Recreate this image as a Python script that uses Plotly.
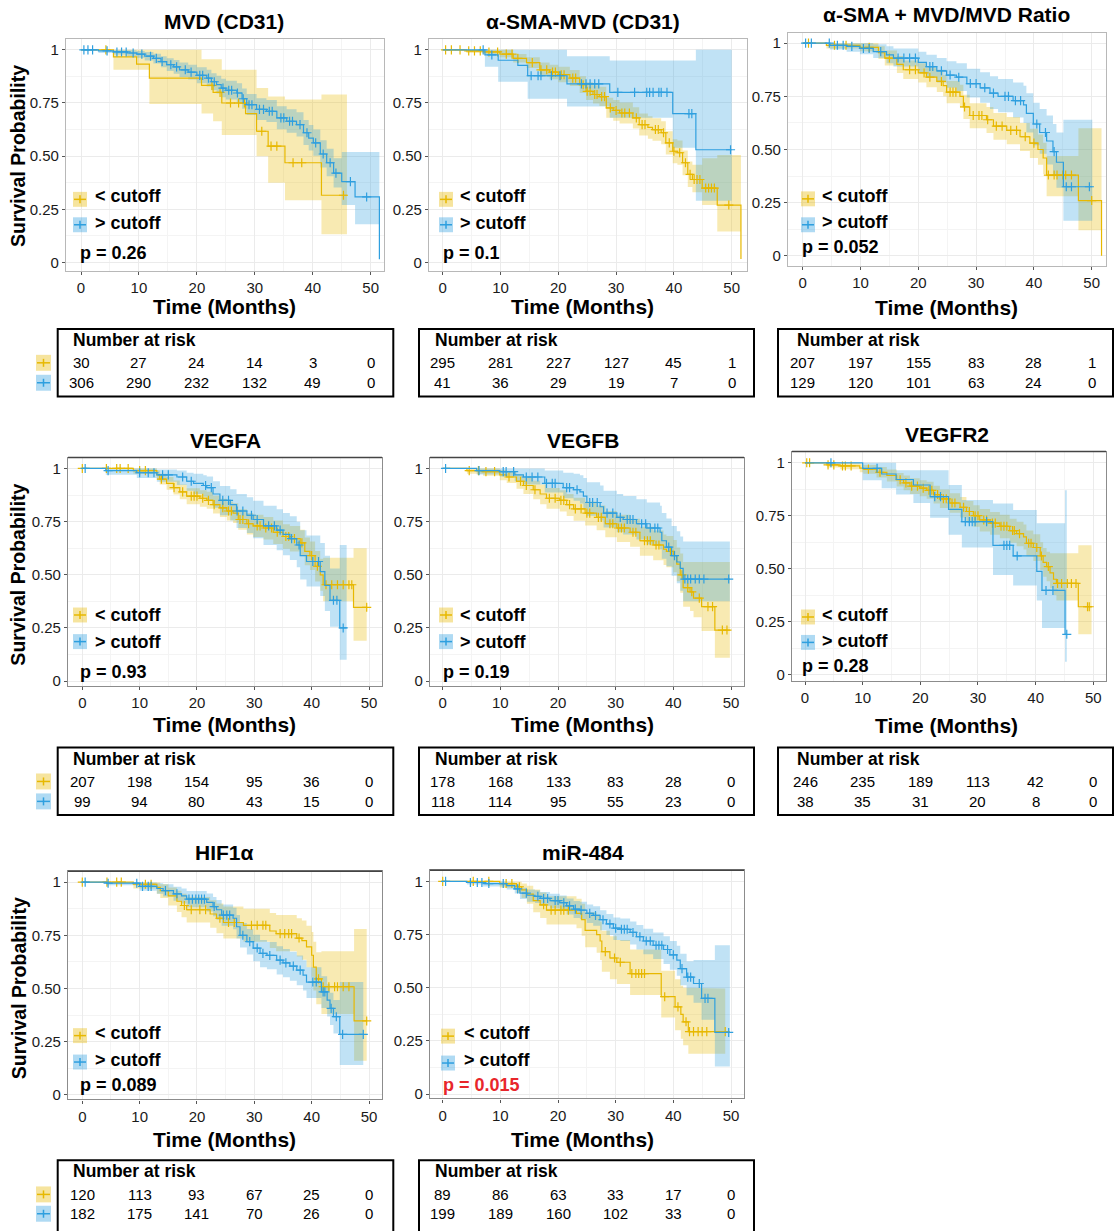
import plotly.graph_objects as go

W, H = 1114, 1231
FONT = "Liberation Sans"
TIME_BREAKS = [0, 10, 20, 30, 40, 50]
Y_TICKS = [0, 0.25, 0.5, 0.75, 1]
Y_TICK_TEXT = ["0", "0.25", "0.50", "0.75", "1"]
GROUP_LABELS = ["< cutoff", "> cutoff"]
LOW_COLOR, HIGH_COLOR = "#E7B800", "#2E9FDF"
LOW_FILL, HIGH_FILL = "rgba(231,184,0,0.30)", "rgba(46,159,223,0.30)"
LOW_SWATCH, HIGH_SWATCH = "rgba(231,184,0,0.38)", "rgba(46,159,223,0.38)"

TITLES = ["MVD (CD31)", "α-SMA-MVD (CD31)", "α-SMA + MVD/MVD Ratio",
          "VEGFA", "VEGFB", "VEGFR2", "HIF1α", "miR-484"]
P_VALUES = ["0.26", "0.1", "0.052", "0.93", "0.19", "0.28", "0.089", "0.015"]
P_SIGNIFICANT = [False, False, False, False, False, False, False, True]

# ---------------- MVD (CD31) ----------------
MVD_LOW_T = [0, 5.6, 9.6, 11.8, 20.8, 22.8, 24.3, 28.4, 30.3, 32.3, 35.2, 41.5]
MVD_LOW_S = [1, 0.967, 0.933, 0.867, 0.833, 0.80, 0.75, 0.70, 0.617, 0.547, 0.469, 0.316]
MVD_LOW_LCL = [1, 0.906, 0.906, 0.745, 0.70, 0.664, 0.60, 0.60, 0.50, 0.375, 0.292, 0.133]
MVD_LOW_UCL = [1, 1, 1, 1, 0.956, 0.956, 0.906, 0.906, 0.82, 0.78, 0.766, 0.79]
MVD_LOW_END = 45.9
MVD_LOW_CENS = [4.3, 22.6, 24.0, 25.8, 27.2, 28.2, 31.2, 32.8, 33.8, 36.6, 38.1, 45.3]
MVD_HIGH_T = [0, 3, 5.6, 8, 9.6, 11, 12.5, 13.8, 14.8, 16, 17, 18.5, 20, 21.7, 22.5, 23.4, 24.2, 25,
              26.9, 27.8, 28.6, 30.3, 32, 33.8, 35.5, 37.2, 38.4, 39.3, 40.1, 41.3, 42.4, 43.6, 45, 47.3, 51.5]
MVD_HIGH_S = [1, 0.995, 0.99, 0.985, 0.98, 0.97, 0.96, 0.945, 0.93, 0.92, 0.906, 0.895, 0.88, 0.867, 0.85,
              0.836, 0.82, 0.81, 0.797, 0.77, 0.742, 0.72, 0.711, 0.68, 0.664, 0.648, 0.61, 0.585, 0.5625,
              0.51, 0.469, 0.42, 0.38, 0.308, 0.015]
MVD_HIGH_LCL = [1, 0.985, 0.978, 0.97, 0.963, 0.95, 0.936, 0.918, 0.9, 0.888, 0.872, 0.86, 0.843, 0.828,
                0.81, 0.795, 0.777, 0.766, 0.752, 0.723, 0.693, 0.67, 0.66, 0.627, 0.61, 0.592, 0.552,
                0.526, 0.502, 0.447, 0.405, 0.352, 0.27, 0.18, 0.18]
MVD_HIGH_UCL = [1, 1, 1, 0.998, 0.995, 0.99, 0.982, 0.97, 0.96, 0.952, 0.94, 0.93, 0.918, 0.906, 0.89,
                0.878, 0.864, 0.855, 0.843, 0.818, 0.792, 0.772, 0.764, 0.735, 0.72, 0.706, 0.67, 0.646,
                0.625, 0.575, 0.535, 0.49, 0.52, 0.52, 0.52]
MVD_HIGH_END = 51.5
MVD_HIGH_CENS = [0.5, 1.2, 2, 4.5, 6.2, 7, 7.8, 9, 10.5, 12, 13, 14, 15.5, 16.5, 18, 19, 20.5, 21, 22, 23,
                 24.5, 25.5, 26, 27, 28, 29, 29.5, 30.8, 31.5, 32.5, 33, 34.5, 35, 36, 36.5, 37.8, 39,
                 40.5, 41.8, 43, 44, 46.5, 49.3]
MVD_RISK_LOW = [30, 27, 24, 14, 3, 0]
MVD_RISK_HIGH = [306, 290, 232, 132, 49, 0]

# ---------------- α-SMA-MVD (CD31) ----------------
SMA_LOW_T = [0, 4.1, 7, 9.9, 12.2, 14.5, 16.8, 18.5, 20, 22, 23.7, 24.8, 26, 27.1, 28.3, 29.5, 30.6, 32.9,
             34, 35.5, 36.3, 37.8, 38.6, 39.8, 40.6, 41.5, 42.4, 43.2, 44.9, 47.5, 51.6]
SMA_LOW_S = [1, 0.995, 0.99, 0.98, 0.96, 0.94, 0.906, 0.895, 0.883, 0.867, 0.836, 0.805, 0.79, 0.78, 0.727,
             0.715, 0.703, 0.68, 0.648, 0.635, 0.625, 0.61, 0.5625, 0.523, 0.516, 0.469, 0.414, 0.39, 0.35,
             0.27, 0.016]
SMA_LOW_LCL = [1, 0.985, 0.978, 0.965, 0.94, 0.915, 0.875, 0.862, 0.848, 0.83, 0.797, 0.764, 0.748, 0.736,
               0.68, 0.667, 0.654, 0.63, 0.597, 0.582, 0.572, 0.556, 0.508, 0.466, 0.46, 0.41, 0.355, 0.33,
               0.27, 0.145, 0.145]
SMA_LOW_UCL = [1, 1, 1, 1, 0.98, 0.965, 0.94, 0.93, 0.92, 0.905, 0.876, 0.848, 0.834, 0.826, 0.775, 0.764,
               0.752, 0.73, 0.70, 0.688, 0.678, 0.664, 0.617, 0.58, 0.573, 0.527, 0.475, 0.46, 0.49, 0.505,
               0.505]
SMA_LOW_END = 51.6
SMA_LOW_CENS = [0.5, 1.5, 3, 4.5, 5.5, 6.5, 8, 9.5, 11, 12, 13, 15.5, 17, 18, 19, 19.5, 20.5, 21, 22.5, 23,
                24.3, 25, 25.5, 26.3, 26.7, 27.5, 28, 29, 30, 31, 31.5, 32.3, 33.5, 34.5, 35, 36.8, 37.3,
                38.2, 39.2, 40, 41, 42, 42.8, 43.5, 44, 44.5, 45.5, 46, 46.5, 47, 49.5]
SMA_HIGH_T = [0, 7.3, 9.6, 13.0, 14.7, 21.5, 28.9, 39.8, 43.8]
SMA_HIGH_S = [1, 0.976, 0.951, 0.927, 0.878, 0.84, 0.80, 0.70, 0.53]
SMA_HIGH_LCL = [1, 0.92, 0.85, 0.85, 0.77, 0.734, 0.68, 0.54, 0.29]
SMA_HIGH_UCL = [1, 1, 1, 1, 1, 0.97, 0.95, 0.95, 1.0]
SMA_HIGH_END = 50
SMA_HIGH_CENS = [7.0, 8.5, 15.3, 16.5, 17, 18.8, 20.3, 24, 24.8, 25.5, 26.3, 27, 30.3, 33.2, 35.3, 35.8,
                 36.4, 37.4, 37.8, 38.8, 42.6, 43.1, 49.8]
SMA_RISK_LOW = [295, 281, 227, 127, 45, 1]
SMA_RISK_HIGH = [41, 36, 29, 19, 7, 0]

# ---------------- α-SMA + MVD/MVD Ratio ----------------
RATIO_LOW_T = [0, 4.1, 9.9, 13.1, 14.2, 16.3, 17.4, 20, 21.4, 23.2, 24.3, 24.9, 27.2, 27.8, 28.9, 31.8, 33,
               35.3, 37.6, 39.3, 40.7, 41.6, 42.2, 47.7, 51.7]
RATIO_LOW_S = [1, 0.99, 0.98, 0.955, 0.93, 0.90, 0.875, 0.86, 0.84, 0.82, 0.80, 0.77, 0.75, 0.70, 0.66,
               0.64, 0.61, 0.59, 0.56, 0.53, 0.50, 0.46, 0.38, 0.26, 0.0]
RATIO_LOW_LCL = [1, 0.975, 0.962, 0.925, 0.895, 0.86, 0.832, 0.815, 0.793, 0.77, 0.75, 0.718, 0.696, 0.643,
                 0.60, 0.578, 0.546, 0.525, 0.493, 0.46, 0.428, 0.385, 0.28, 0.12, 0.12]
RATIO_LOW_UCL = [1, 1, 1, 0.985, 0.965, 0.94, 0.918, 0.905, 0.886, 0.868, 0.85, 0.822, 0.804, 0.757,
                 0.718, 0.70, 0.672, 0.653, 0.625, 0.598, 0.57, 0.532, 0.47, 0.60, 0.60]
RATIO_LOW_END = 51.7
RATIO_LOW_CENS = [1, 5.5, 7.5, 11.5, 15, 18.5, 19.5, 21, 22, 24, 25.5, 26, 26.5, 28, 29.5, 30.5, 31, 32,
                  33.5, 34.5, 36, 37, 38.5, 40, 42.5, 43.5, 44, 45, 45.5, 46.5, 50]
RATIO_HIGH_T = [0, 4.7, 7.6, 9.9, 12.2, 14.5, 15.7, 20, 21.4, 23.2, 24.9, 26.6, 28.4, 30.7, 32.4, 33.8,
                36.4, 38.2, 38.7, 39.9, 41, 42.2, 43.3, 43.9, 45.1]
RATIO_HIGH_S = [1, 0.99, 0.985, 0.975, 0.96, 0.945, 0.93, 0.91, 0.89, 0.87, 0.85, 0.84, 0.81, 0.79, 0.765,
                0.75, 0.73, 0.71, 0.67, 0.62, 0.58, 0.54, 0.49, 0.44, 0.325]
RATIO_HIGH_LCL = [1, 0.97, 0.96, 0.948, 0.93, 0.905, 0.89, 0.86, 0.84, 0.815, 0.79, 0.775, 0.745, 0.72,
                  0.69, 0.675, 0.65, 0.625, 0.58, 0.52, 0.48, 0.43, 0.38, 0.32, 0.165]
RATIO_HIGH_UCL = [1, 1, 1, 1, 0.995, 0.985, 0.975, 0.96, 0.945, 0.93, 0.915, 0.905, 0.88, 0.863, 0.845,
                  0.832, 0.815, 0.80, 0.765, 0.72, 0.69, 0.66, 0.62, 0.58, 0.64]
RATIO_HIGH_END = 50.1
RATIO_HIGH_CENS = [0.5, 1.5, 4.6, 6, 7, 8.5, 10.5, 11.5, 13.5, 16.5, 17.5, 18.5, 19.5, 22, 22.5, 24, 25.5,
                   27, 29, 30, 31.5, 33, 35, 35.6, 36.8, 37.7, 40.5, 42, 43.5, 45.6, 46.5, 49.6]
RATIO_RISK_LOW = [207, 197, 155, 83, 28, 1]
RATIO_RISK_HIGH = [129, 120, 101, 63, 24, 0]

# ---------------- VEGFA ----------------
VEGFA_LOW_T = [0, 8.9, 13, 13.5, 14.7, 15.9, 17, 18.2, 20.5, 21.7, 22.8, 24, 25.2, 26.3, 27.2, 28.7, 29.8,
               31.6, 33.3, 35, 36.2, 38, 38.8, 39.7, 40.6, 41.5, 42, 47.3]
VEGFA_LOW_S = [1, 0.99, 0.97, 0.95, 0.93, 0.91, 0.89, 0.87, 0.86, 0.85, 0.83, 0.815, 0.80, 0.79, 0.76, 0.74,
               0.73, 0.72, 0.70, 0.68, 0.67, 0.65, 0.61, 0.59, 0.54, 0.50, 0.453, 0.347]
VEGFA_LOW_LCL = [1, 0.975, 0.948, 0.925, 0.90, 0.877, 0.855, 0.832, 0.82, 0.81, 0.788, 0.772, 0.755, 0.744,
                 0.712, 0.69, 0.678, 0.666, 0.645, 0.622, 0.61, 0.588, 0.545, 0.523, 0.468, 0.425, 0.375, 0.19]
VEGFA_LOW_UCL = [1, 1, 0.99, 0.975, 0.96, 0.943, 0.925, 0.907, 0.898, 0.89, 0.872, 0.858, 0.845, 0.836,
                 0.808, 0.79, 0.782, 0.772, 0.755, 0.738, 0.73, 0.712, 0.675, 0.657, 0.612, 0.575, 0.58, 0.625]
VEGFA_LOW_END = 49.6
VEGFA_LOW_CENS = [0, 4.2, 6, 6.6, 8, 10, 11, 13.8, 16, 17.5, 19, 19.5, 20, 21, 22, 23, 24.5, 25.5, 26, 27.5,
                  28, 29, 30.5, 31, 32, 33, 34, 35.5, 36, 37, 38.3, 40, 41, 42.5, 43.5, 44.5, 45.5, 46.5,
                  47, 49.6]
VEGFA_HIGH_T = [0, 4.1, 9.5, 13, 16.5, 18.2, 19.4, 21.1, 21.7, 22.8, 24, 25.8, 26.9, 28.7, 29.8, 31.6,
                33.9, 35, 36.2, 37.4, 38, 39.1, 41.5, 42.3, 43.2, 44.9]
VEGFA_HIGH_S = [1, 0.99, 0.98, 0.97, 0.96, 0.94, 0.93, 0.92, 0.91, 0.88, 0.85, 0.83, 0.80, 0.78, 0.76,
                0.73, 0.71, 0.69, 0.67, 0.64, 0.59, 0.5625, 0.515, 0.45, 0.38, 0.25]
VEGFA_HIGH_LCL = [1, 0.97, 0.955, 0.938, 0.922, 0.895, 0.88, 0.867, 0.852, 0.815, 0.78, 0.755, 0.72,
                  0.696, 0.672, 0.64, 0.615, 0.592, 0.57, 0.535, 0.478, 0.445, 0.40, 0.33, 0.255, 0.10]
VEGFA_HIGH_UCL = [1, 1, 1, 0.995, 0.99, 0.98, 0.975, 0.968, 0.962, 0.94, 0.918, 0.902, 0.88, 0.865,
                  0.848, 0.825, 0.808, 0.79, 0.775, 0.75, 0.71, 0.685, 0.65, 0.59, 0.53, 0.64]
VEGFA_HIGH_END = 46.1
VEGFA_HIGH_CENS = [0.5, 4.5, 10, 11.5, 12.5, 14, 15, 17.5, 19, 21.5, 22.5, 24.5, 25.5, 27, 28, 29.5, 30.5,
                   32.5, 33.5, 34.5, 36.5, 37.8, 40.2, 41.2, 43.8, 44.4, 45.5]
VEGFA_RISK_LOW = [207, 198, 154, 95, 36, 0]
VEGFA_RISK_HIGH = [99, 94, 80, 43, 15, 0]

# ---------------- VEGFB ----------------
VEGFB_LOW_T = [0, 4.2, 7, 9.9, 11.1, 12.8, 14, 15.7, 16.9, 18, 20.3, 21.5, 22.7, 24.7, 26.7, 28.2, 30.2,
               32.5, 34.2, 36.5, 38.3, 38.8, 40, 40.6, 41.2, 41.7, 42.9, 43.5, 44.9, 47.2]
VEGFB_LOW_S = [1, 0.99, 0.985, 0.97, 0.96, 0.94, 0.92, 0.90, 0.88, 0.86, 0.85, 0.83, 0.81, 0.79, 0.77,
               0.74, 0.72, 0.70, 0.66, 0.64, 0.62, 0.61, 0.59, 0.55, 0.50, 0.44, 0.42, 0.39, 0.35, 0.24]
VEGFB_LOW_LCL = [1, 0.975, 0.966, 0.945, 0.932, 0.905, 0.88, 0.855, 0.832, 0.81, 0.798, 0.776, 0.754,
                 0.732, 0.71, 0.676, 0.654, 0.632, 0.59, 0.568, 0.546, 0.535, 0.512, 0.47, 0.415, 0.35,
                 0.33, 0.30, 0.235, 0.11]
VEGFB_LOW_UCL = [1, 1, 1, 0.993, 0.987, 0.972, 0.957, 0.942, 0.925, 0.908, 0.898, 0.88, 0.862, 0.845,
                 0.826, 0.80, 0.782, 0.763, 0.726, 0.708, 0.69, 0.682, 0.664, 0.628, 0.60, 0.56, 0.56,
                 0.56, 0.56, 0.56]
VEGFB_LOW_END = 49.8
VEGFB_LOW_CENS = [4.6, 6.2, 7.5, 9, 11.5, 13.5, 14.5, 16, 18.5, 19.5, 20.5, 21, 22, 23, 24, 25, 25.5, 27,
                  27.5, 29, 29.5, 30.5, 31, 31.5, 33, 33.5, 35, 35.5, 36, 37, 37.5, 39.5, 41.5, 42.5,
                  43.2, 44.5, 46, 46.8, 48.5, 49.3]
VEGFB_HIGH_T = [0, 5.9, 9.9, 12.5, 14, 17.7, 20.9, 22.7, 23.8, 24.4, 25, 27.3, 27.9, 30.2, 31.3, 33.6,
                35.4, 37.7, 38, 38.8, 39.7, 40.6, 41.2, 41.7]
VEGFB_HIGH_S = [1, 0.99, 0.985, 0.97, 0.96, 0.93, 0.91, 0.90, 0.89, 0.87, 0.84, 0.82, 0.79, 0.77, 0.76,
                0.74, 0.72, 0.70, 0.66, 0.63, 0.59, 0.56, 0.53, 0.48]
VEGFB_HIGH_LCL = [1, 0.972, 0.962, 0.94, 0.925, 0.887, 0.86, 0.848, 0.835, 0.812, 0.778, 0.755, 0.722,
                  0.70, 0.69, 0.666, 0.642, 0.62, 0.575, 0.54, 0.495, 0.46, 0.425, 0.375]
VEGFB_HIGH_UCL = [1, 1, 1, 1, 1, 0.99, 0.98, 0.975, 0.968, 0.955, 0.935, 0.92, 0.895, 0.88, 0.87, 0.855,
                  0.84, 0.825, 0.79, 0.765, 0.73, 0.705, 0.68, 0.656]
VEGFB_HIGH_END = 49.8
VEGFB_HIGH_CENS = [0.5, 6.3, 10.5, 11, 12.3, 14.5, 15.5, 16.5, 18, 19, 19.5, 21.5, 22, 23.3, 25.5, 26,
                   26.8, 28.5, 29.5, 30.8, 32, 32.5, 33, 34.5, 35.2, 36, 36.8, 37.3, 39.2, 40.2, 42, 42.5,
                   43, 43.8, 44.5, 45.3, 49.6]
VEGFB_RISK_LOW = [178, 168, 133, 83, 28, 0]
VEGFB_RISK_HIGH = [118, 114, 95, 55, 23, 0]

# ---------------- VEGFR2 ----------------
VEGFR2_LOW_T = [0, 3.8, 6.1, 9.5, 10.1, 12.4, 14.2, 15.9, 17.1, 18.2, 19.9, 21.1, 22.3, 23.4, 25.1, 26.9,
                28, 29.2, 30.3, 32.1, 33.8, 35.5, 36.7, 37.9, 38.4, 39.6, 40.8, 41.3, 41.9, 42.5, 43.1,
                43.6, 47.4]
VEGFR2_LOW_S = [1, 0.99, 0.985, 0.975, 0.97, 0.955, 0.94, 0.92, 0.905, 0.89, 0.88, 0.87, 0.85, 0.83, 0.81,
                0.79, 0.77, 0.75, 0.73, 0.715, 0.70, 0.68, 0.665, 0.65, 0.62, 0.60, 0.56, 0.53, 0.51, 0.48,
                0.45, 0.43, 0.32]
VEGFR2_LOW_LCL = [1, 0.978, 0.97, 0.955, 0.948, 0.93, 0.912, 0.888, 0.87, 0.853, 0.842, 0.83, 0.808, 0.786,
                  0.764, 0.742, 0.72, 0.698, 0.676, 0.66, 0.644, 0.622, 0.606, 0.59, 0.558, 0.536, 0.494,
                  0.462, 0.44, 0.408, 0.375, 0.35, 0.19]
VEGFR2_LOW_UCL = [1, 1, 1, 0.995, 0.99, 0.98, 0.968, 0.952, 0.94, 0.927, 0.918, 0.91, 0.892, 0.874, 0.856,
                  0.838, 0.82, 0.80, 0.782, 0.768, 0.754, 0.736, 0.722, 0.708, 0.68, 0.662, 0.625, 0.598,
                  0.58, 0.573, 0.573, 0.573, 0.61]
VEGFR2_LOW_END = 49.7
VEGFR2_LOW_CENS = [0.3, 0.8, 4, 5, 6.5, 7, 8, 11, 13, 16.5, 17.5, 18.5, 19.5, 20.5, 21.5, 22, 23, 24, 24.5,
                   25.5, 26, 27.5, 28.5, 29.5, 30, 31, 31.5, 32.5, 33, 34, 34.5, 35, 36, 36.3, 37.2, 38.8,
                   39.2, 40.2, 41, 42.2, 43.8, 44.5, 45.5, 46.2, 47, 49, 49.3]
VEGFR2_HIGH_T = [0, 10, 13.3, 15.8, 18.8, 21.7, 24.9, 27.2, 32.6, 36.1, 40.2, 41.1, 45.1]
VEGFR2_HIGH_S = [1, 0.974, 0.947, 0.921, 0.895, 0.84, 0.78, 0.722, 0.61, 0.56, 0.487, 0.397, 0.19]
VEGFR2_HIGH_LCL = [1, 0.918, 0.88, 0.85, 0.81, 0.74, 0.66, 0.60, 0.47, 0.42, 0.35, 0.22, 0.06]
VEGFR2_HIGH_UCL = [1, 1, 1, 0.965, 0.965, 0.965, 0.895, 0.824, 0.808, 0.777, 0.714, 0.714, 0.87]
VEGFR2_HIGH_END = 45.4
VEGFR2_HIGH_CENS = [4.5, 12.5, 22.5, 23.5, 27.8, 28.5, 29, 29.5, 31.5, 34.5, 35, 35.5, 36.8, 41.8, 43, 45.4]
VEGFR2_RISK_LOW = [246, 235, 189, 113, 42, 0]
VEGFR2_RISK_HIGH = [38, 35, 31, 20, 8, 0]

# ---------------- HIF1α ----------------
HIF_LOW_T = [0, 8.9, 13, 13.6, 15, 16.5, 17.3, 18.2, 22.3, 23.4, 24.6, 28.1, 32.7, 33.8, 37.4, 38.3, 39.1,
             40, 40.3, 40.8, 41.7, 47.4]
HIF_LOW_S = [1, 0.99, 0.975, 0.96, 0.935, 0.91, 0.89, 0.87, 0.85, 0.83, 0.81, 0.797, 0.77, 0.758, 0.737,
             0.725, 0.695, 0.656, 0.60, 0.545, 0.508, 0.347]
HIF_LOW_LCL = [1, 0.97, 0.945, 0.925, 0.89, 0.86, 0.835, 0.81, 0.785, 0.76, 0.735, 0.72, 0.69, 0.675, 0.65,
               0.635, 0.60, 0.555, 0.49, 0.425, 0.38, 0.16]
HIF_LOW_UCL = [1, 1, 0.998, 0.99, 0.975, 0.96, 0.945, 0.93, 0.915, 0.9, 0.885, 0.875, 0.855, 0.845, 0.83,
               0.82, 0.795, 0.765, 0.72, 0.67, 0.675, 0.78]
HIF_LOW_END = 49.6
HIF_LOW_CENS = [0, 4.3, 6, 6.8, 11, 12, 17.8, 19, 20.5, 21.5, 24, 25.5, 26.5, 29.5, 30.5, 31.5, 32, 34.5,
                35.3, 36, 36.5, 37.8, 41.2, 42, 43, 44, 44.5, 45.5, 46.5, 49.6]
HIF_HIGH_T = [0, 4.2, 10, 13, 14.1, 15.9, 17.3, 18.2, 21.7, 22.8, 23.4, 24.3, 26.3, 26.9, 27.5, 28.7, 29.8,
              31, 32.2, 33.9, 35, 36.2, 37.4, 38.5, 39.1, 41.7, 42.7, 43.2, 43.8, 44.9]
HIF_HIGH_S = [1, 0.995, 0.98, 0.97, 0.96, 0.945, 0.935, 0.92, 0.905, 0.885, 0.87, 0.845, 0.83, 0.79, 0.75,
              0.72, 0.69, 0.665, 0.655, 0.633, 0.62, 0.605, 0.586, 0.5625, 0.53, 0.484, 0.445, 0.406,
              0.367, 0.284]
HIF_HIGH_LCL = [1, 0.985, 0.96, 0.945, 0.932, 0.912, 0.9, 0.882, 0.862, 0.84, 0.823, 0.795, 0.778, 0.735,
                0.692, 0.66, 0.628, 0.6, 0.59, 0.566, 0.552, 0.536, 0.515, 0.49, 0.455, 0.408, 0.368,
                0.328, 0.288, 0.14]
HIF_HIGH_UCL = [1, 1, 0.998, 0.995, 0.99, 0.978, 0.97, 0.958, 0.946, 0.93, 0.916, 0.895, 0.88, 0.845,
                0.808, 0.78, 0.752, 0.728, 0.718, 0.698, 0.685, 0.672, 0.655, 0.632, 0.60, 0.557, 0.52,
                0.48, 0.445, 0.53]
HIF_HIGH_END = 49
HIF_HIGH_CENS = [0.5, 4.5, 9.5, 10.5, 11.5, 12, 14.5, 16.5, 18.6, 19.2, 19.8, 20.3, 20.8, 21.3, 23, 24.6,
                 25.2, 25.7, 28, 29.2, 30.5, 31.5, 32.7, 34.5, 35.5, 36.8, 38, 40.2, 40.8, 42, 42.3, 43.4,
                 44.3, 45.4, 49]
HIF_RISK_LOW = [120, 113, 93, 67, 25, 0]
HIF_RISK_HIGH = [182, 175, 141, 70, 26, 0]

# ---------------- miR-484 ----------------
MIR_LOW_T = [0, 9.9, 12.8, 13.7, 14.6, 15.7, 16.9, 18, 23.2, 24.1, 24.7, 26.7, 27.3, 27.6, 29, 30.2, 32.5,
             37.9, 40.3, 41.3, 41.7, 42.6]
MIR_LOW_S = [1, 0.99, 0.975, 0.96, 0.94, 0.91, 0.89, 0.865, 0.85, 0.82, 0.77, 0.75, 0.72, 0.67, 0.64, 0.62,
             0.567, 0.458, 0.41, 0.375, 0.34, 0.294]
MIR_LOW_LCL = [1, 0.97, 0.945, 0.922, 0.895, 0.855, 0.828, 0.797, 0.78, 0.745, 0.69, 0.665, 0.63, 0.575,
               0.54, 0.518, 0.466, 0.36, 0.30, 0.26, 0.23, 0.19]
MIR_LOW_UCL = [1, 1, 0.998, 0.99, 0.98, 0.962, 0.948, 0.93, 0.918, 0.895, 0.855, 0.838, 0.812, 0.768,
               0.742, 0.725, 0.68, 0.58, 0.54, 0.51, 0.50, 0.497]
MIR_LOW_END = 49
MIR_LOW_CENS = [0, 5.3, 8, 11, 12, 13.3, 17.5, 18.8, 19.5, 20.5, 21, 21.8, 28.2, 29.8, 30.8, 32.8, 33.5,
                34, 34.5, 35, 38.5, 40.8, 42.2, 42.8, 43.5, 44.3, 45, 45.8, 49]
MIR_HIGH_T = [0, 4.2, 7, 11.1, 12.5, 13.4, 14.6, 16, 16.9, 18.6, 20.3, 21.5, 22.7, 23.8, 25, 26.1, 27.3,
              28.4, 29.6, 30.8, 32.5, 33.6, 34.8, 36.5, 38.3, 39.4, 40.6, 41.2, 42.3, 43.5, 44.9, 47.2]
MIR_HIGH_S = [1, 0.995, 0.99, 0.98, 0.965, 0.945, 0.935, 0.93, 0.92, 0.91, 0.90, 0.885, 0.87, 0.865, 0.85,
              0.84, 0.82, 0.80, 0.78, 0.775, 0.76, 0.74, 0.72, 0.70, 0.68, 0.655, 0.63, 0.59, 0.55, 0.52,
              0.45, 0.29]
MIR_HIGH_LCL = [1, 0.985, 0.976, 0.962, 0.943, 0.917, 0.905, 0.898, 0.886, 0.874, 0.862, 0.845, 0.828,
                0.822, 0.804, 0.792, 0.77, 0.748, 0.725, 0.72, 0.703, 0.68, 0.658, 0.635, 0.612, 0.585,
                0.557, 0.512, 0.465, 0.43, 0.35, 0.13]
MIR_HIGH_UCL = [1, 1, 1, 0.995, 0.985, 0.97, 0.962, 0.958, 0.95, 0.942, 0.934, 0.92, 0.908, 0.904, 0.892,
                0.883, 0.865, 0.847, 0.83, 0.826, 0.812, 0.795, 0.777, 0.76, 0.742, 0.72, 0.698, 0.66,
                0.625, 0.63, 0.63, 0.70]
MIR_HIGH_END = 49.8
MIR_HIGH_CENS = [0.5, 4.8, 6, 6.8, 8, 10.5, 13, 14.5, 16.5, 17.5, 18.2, 19.5, 20, 21, 22, 23, 24, 25.5,
                 26.5, 27.8, 29, 30, 31, 31.5, 32, 33, 34.2, 35.3, 36, 37, 37.5, 38, 39, 40, 41.5, 42.5,
                 43, 44.5, 45.5, 46, 49.6]
MIR_RISK_LOW = [89, 86, 63, 33, 17, 0]
MIR_RISK_HIGH = [199, 189, 160, 102, 33, 0]

# ---- assemble per-panel data from the named arrays ----
PANEL_DATA = [
    ((MVD_LOW_T, MVD_LOW_S, MVD_LOW_LCL, MVD_LOW_UCL, MVD_LOW_END, MVD_LOW_CENS),
     (MVD_HIGH_T, MVD_HIGH_S, MVD_HIGH_LCL, MVD_HIGH_UCL, MVD_HIGH_END, MVD_HIGH_CENS),
     MVD_RISK_LOW, MVD_RISK_HIGH),
    ((SMA_LOW_T, SMA_LOW_S, SMA_LOW_LCL, SMA_LOW_UCL, SMA_LOW_END, SMA_LOW_CENS),
     (SMA_HIGH_T, SMA_HIGH_S, SMA_HIGH_LCL, SMA_HIGH_UCL, SMA_HIGH_END, SMA_HIGH_CENS),
     SMA_RISK_LOW, SMA_RISK_HIGH),
    ((RATIO_LOW_T, RATIO_LOW_S, RATIO_LOW_LCL, RATIO_LOW_UCL, RATIO_LOW_END, RATIO_LOW_CENS),
     (RATIO_HIGH_T, RATIO_HIGH_S, RATIO_HIGH_LCL, RATIO_HIGH_UCL, RATIO_HIGH_END, RATIO_HIGH_CENS),
     RATIO_RISK_LOW, RATIO_RISK_HIGH),
    ((VEGFA_LOW_T, VEGFA_LOW_S, VEGFA_LOW_LCL, VEGFA_LOW_UCL, VEGFA_LOW_END, VEGFA_LOW_CENS),
     (VEGFA_HIGH_T, VEGFA_HIGH_S, VEGFA_HIGH_LCL, VEGFA_HIGH_UCL, VEGFA_HIGH_END, VEGFA_HIGH_CENS),
     VEGFA_RISK_LOW, VEGFA_RISK_HIGH),
    ((VEGFB_LOW_T, VEGFB_LOW_S, VEGFB_LOW_LCL, VEGFB_LOW_UCL, VEGFB_LOW_END, VEGFB_LOW_CENS),
     (VEGFB_HIGH_T, VEGFB_HIGH_S, VEGFB_HIGH_LCL, VEGFB_HIGH_UCL, VEGFB_HIGH_END, VEGFB_HIGH_CENS),
     VEGFB_RISK_LOW, VEGFB_RISK_HIGH),
    ((VEGFR2_LOW_T, VEGFR2_LOW_S, VEGFR2_LOW_LCL, VEGFR2_LOW_UCL, VEGFR2_LOW_END, VEGFR2_LOW_CENS),
     (VEGFR2_HIGH_T, VEGFR2_HIGH_S, VEGFR2_HIGH_LCL, VEGFR2_HIGH_UCL, VEGFR2_HIGH_END, VEGFR2_HIGH_CENS),
     VEGFR2_RISK_LOW, VEGFR2_RISK_HIGH),
    ((HIF_LOW_T, HIF_LOW_S, HIF_LOW_LCL, HIF_LOW_UCL, HIF_LOW_END, HIF_LOW_CENS),
     (HIF_HIGH_T, HIF_HIGH_S, HIF_HIGH_LCL, HIF_HIGH_UCL, HIF_HIGH_END, HIF_HIGH_CENS),
     HIF_RISK_LOW, HIF_RISK_HIGH),
    ((MIR_LOW_T, MIR_LOW_S, MIR_LOW_LCL, MIR_LOW_UCL, MIR_LOW_END, MIR_LOW_CENS),
     (MIR_HIGH_T, MIR_HIGH_S, MIR_HIGH_LCL, MIR_HIGH_UCL, MIR_HIGH_END, MIR_HIGH_CENS),
     MIR_RISK_LOW, MIR_RISK_HIGH),
]

# ---- page geometry (pixels) ----
ROW_TABLE = [(330, 397.7, 341, 364, 384), (750, 817.7, 761, 784, 804), (1164, 1245, 1175, 1198.3, 1217.7)]
GEOM = [
    dict(frame=(66, 384, 39, 272), t0=81, t50=370.7, s1=50, s0=263.3, title=(224, 22), xt=(224, 307),
         yt=157, sw=73, swy=(200, 225.5), tx=93, ty=(197, 224), p=(78, 254), tab=(57.7, 393.3), hx=71, row=0),
    dict(frame=(429, 747, 39, 272), t0=442.7, t50=731.7, s1=50, s0=263.3, title=(582.7, 22), xt=(582.7, 307),
         yt=None, sw=439, swy=(200, 225.5), tx=458, ty=(197, 224), p=(440.7, 254), tab=(419, 754), hx=433, row=0),
    dict(frame=(788, 1106, 33, 267), t0=802.7, t50=1091.7, s1=43.3, s0=256.7, title=(946.7, 15),
         xt=(946.7, 308.3), yt=None, sw=801, swy=(199.5, 225.5), tx=820, ty=(197, 223), p=(800, 248.3),
         tab=(778, 1113), hx=795, row=0),
    dict(frame=(68, 382, 459, 688), t0=82.3, t50=369, s1=470, s0=683.3, title=(225, 441.7), xt=(224, 727),
         yt=577, sw=73, swy=(617, 643.7), tx=93, ty=(616.7, 644), p=(78.3, 674), tab=(57.7, 393.3), hx=71, row=1),
    dict(frame=(430, 744, 459, 688), t0=442.7, t50=731, s1=470, s0=683.3, title=(583, 441.7), xt=(582.7, 727),
         yt=None, sw=439, swy=(617, 643.7), tx=458, ty=(616.7, 644), p=(440.7, 674), tab=(419, 754), hx=433, row=1),
    dict(frame=(792, 1106, 453, 683), t0=805, t50=1093.3, s1=464.3, s0=676.7, title=(947, 436),
         xt=(946.7, 728), yt=None, sw=801, swy=(619, 644.5), tx=820, ty=(617, 643), p=(800, 668.3),
         tab=(778, 1113), hx=795, row=1),
    dict(frame=(68, 382, 874, 1103), t0=82.3, t50=369, s1=885, s0=1098.3, title=(224, 855.7), xt=(224, 1143),
         yt=992, sw=73, swy=(1039, 1065.5), tx=93, ty=(1036.7, 1063.3), p=(78.3, 1088.3), tab=(57.7, 393.3),
         hx=71, row=2),
    dict(frame=(430, 744, 873, 1102), t0=442.7, t50=731, s1=884.3, s0=1097.7, title=(582.7, 855),
         xt=(582.7, 1143), yt=None, sw=441, swy=(1039.5, 1066.5), tx=461.7, ty=(1036.7, 1063.3),
         p=(440.7, 1088.3), tab=(419, 754), hx=433, row=2),
]


def px(x):
    return x / W


def py(y):
    return 1 - y / H


def step_value(T, S, t):
    v = S[0]
    for ti, si in zip(T, S):
        if ti <= t:
            v = si
        else:
            break
    return v


def band_polygon(T, LO, HI, end):
    xs, ys = [], []
    n = len(T)
    for i in range(n):
        xn = T[i + 1] if i + 1 < n else end
        xs += [T[i], xn]
        ys += [HI[i], HI[i]]
    for i in reversed(range(n)):
        xn = T[i + 1] if i + 1 < n else end
        xs += [xn, T[i]]
        ys += [LO[i], LO[i]]
    return xs, ys


fig = go.Figure()
layout = {}
shapes, annotations = [], []
GRID = "#EBEBEB"
MINOR = "#F4F4F4"
FRAME_COLORS = ["#B8B8B8", "#8C8C8C", "#8C8C8C"]
TOP_EDGE = [None, "#444444", "#444444"]

for k, (g, dat) in enumerate(zip(GEOM, PANEL_DATA), start=1):
    xid = "x" if k == 1 else f"x{k}"
    yid = "y" if k == 1 else f"y{k}"
    xkey = "xaxis" if k == 1 else f"xaxis{k}"
    ykey = "yaxis" if k == 1 else f"yaxis{k}"
    fx0, fx1, fy0, fy1 = g["frame"]
    ppt = (g["t50"] - g["t0"]) / 50.0
    xr = [(fx0 - g["t0"]) / ppt, (fx1 - g["t0"]) / ppt]
    pps = g["s0"] - g["s1"]
    yr = [(g["s0"] - fy1) / pps, (g["s0"] - fy0) / pps]
    common = dict(showline=True, mirror=True, linecolor=FRAME_COLORS[g["row"]], linewidth=1.2,
                  ticks="outside", ticklen=3, tickcolor="#555", tickwidth=1, showgrid=True, gridcolor=GRID,
                  gridwidth=1, zeroline=False, tickfont=dict(family=FONT, size=15, color="#1a1a1a"),
                  fixedrange=True)
    layout[xkey] = dict(domain=[px(fx0), px(fx1)], range=xr, anchor=yid, tickmode="array",
                        tickvals=TIME_BREAKS, minor=dict(tick0=0, dtick=5, showgrid=True, gridcolor=MINOR),
                        **common)
    layout[ykey] = dict(domain=[py(fy1), py(fy0)], range=yr, anchor=xid, tickmode="array",
                        tickvals=Y_TICKS, ticktext=Y_TICK_TEXT,
                        minor=dict(tick0=0, dtick=0.125, showgrid=True, gridcolor=MINOR), **common)
    if TOP_EDGE[g["row"]]:
        shapes.append(dict(type="line", xref="paper", yref="paper", x0=px(fx0), x1=px(fx1),
                           y0=py(fy0), y1=py(fy0), line=dict(color=TOP_EDGE[g["row"]], width=1.5)))

    low, high, risk_low, risk_high = dat
    groups = [(low, LOW_COLOR, LOW_FILL), (high, HIGH_COLOR, HIGH_FILL)]
    for (T, S, LO, HI, END, CENS), col, fill in groups:
        if not (len(T) == len(S) == len(LO) == len(HI)):
            raise ValueError(f"length mismatch in panel {k}")
        bx, by = band_polygon(T, LO, HI, END)
        fig.add_trace(go.Scatter(x=bx, y=by, fill="toself", fillcolor=fill, line=dict(width=0),
                                 mode="lines", hoverinfo="skip", showlegend=False, xaxis=xid, yaxis=yid))
    for (T, S, LO, HI, END, CENS), col, fill in groups:
        fig.add_trace(go.Scatter(x=list(T) + [END], y=list(S) + [S[-1]], mode="lines",
                                 line=dict(color=col, width=1.2, shape="hv"), hoverinfo="skip",
                                 showlegend=False, xaxis=xid, yaxis=yid))
        fig.add_trace(go.Scatter(x=CENS, y=[step_value(T, S, c) for c in CENS], mode="markers",
                                 marker=dict(symbol="cross-thin", size=6.5, color=col,
                                             line=dict(width=1.2, color=col)),
                                 hoverinfo="skip", showlegend=False, xaxis=xid, yaxis=yid))

    # title and axis titles
    annotations.append(dict(text=f"<b>{TITLES[k-1]}</b>", x=px(g["title"][0]), y=py(g["title"][1]),
                            xref="paper", yref="paper", showarrow=False, xanchor="center", yanchor="middle",
                            font=dict(family=FONT, size=21, color="black")))
    annotations.append(dict(text="<b>Time (Months)</b>", x=px(g["xt"][0]), y=py(g["xt"][1]),
                            xref="paper", yref="paper", showarrow=False, xanchor="center", yanchor="middle",
                            font=dict(family=FONT, size=21, color="black")))
    if g["yt"] is not None:
        annotations.append(dict(text="<b>Survival Probability</b>", x=px(18.5), y=py(g["yt"]),
                                xref="paper", yref="paper", showarrow=False, textangle=-90,
                                xanchor="center", yanchor="middle",
                                font=dict(family=FONT, size=19.5, color="black")))

    # in-plot legend
    for j, (lab, col, swf) in enumerate(zip(GROUP_LABELS, [LOW_COLOR, HIGH_COLOR], [LOW_SWATCH, HIGH_SWATCH])):
        cy = g["swy"][j]
        sx = g["sw"]
        shapes.append(dict(type="rect", xref="paper", yref="paper", x0=px(sx), x1=px(sx + 14),
                           y0=py(cy + 7.5), y1=py(cy - 7.5), fillcolor=swf, line=dict(width=0)))
        shapes.append(dict(type="line", xref="paper", yref="paper", x0=px(sx + 1), x1=px(sx + 13),
                           y0=py(cy), y1=py(cy), line=dict(color=col, width=1.5)))
        shapes.append(dict(type="line", xref="paper", yref="paper", x0=px(sx + 7), x1=px(sx + 7),
                           y0=py(cy - 4), y1=py(cy + 4), line=dict(color=col, width=1.5)))
        annotations.append(dict(text=f"<b>{lab}</b>", x=px(g["tx"]), y=py(g["ty"][j]), xref="paper",
                                yref="paper", showarrow=False, xanchor="left", yanchor="middle",
                                font=dict(family=FONT, size=18, color="black")))
    pcol = "#E8262B" if P_SIGNIFICANT[k - 1] else "black"
    annotations.append(dict(text=f"<b>p = {P_VALUES[k-1]}</b>", x=px(g["p"][0]), y=py(g["p"][1]),
                            xref="paper", yref="paper", showarrow=False, xanchor="left", yanchor="middle",
                            font=dict(family=FONT, size=18, color=pcol)))

    # risk table
    ty0, ty1, hy, r1, r2 = ROW_TABLE[g["row"]]
    shapes.append(dict(type="rect", xref="paper", yref="paper", x0=px(g["tab"][0]), x1=px(g["tab"][1]),
                       y0=py(ty1), y1=py(ty0), line=dict(color="black", width=2), fillcolor="rgba(0,0,0,0)"))
    annotations.append(dict(text="<b>Number at risk</b>", x=px(g["hx"]), y=py(hy), xref="paper", yref="paper",
                            showarrow=False, xanchor="left", yanchor="middle",
                            font=dict(family=FONT, size=17.5, color="black")))
    for vals, ry in ((risk_low, r1), (risk_high, r2)):
        for t, v in zip(TIME_BREAKS, vals):
            annotations.append(dict(text=str(v), x=t, xref=xid, y=py(ry), yref="paper", showarrow=False,
                                    xanchor="center", yanchor="middle",
                                    font=dict(family=FONT, size=15, color="black")))
    if g["yt"] is not None:
        for ry, col, swf in ((r1, LOW_COLOR, LOW_SWATCH), (r2, HIGH_COLOR, HIGH_SWATCH)):
            sx = 36
            shapes.append(dict(type="rect", xref="paper", yref="paper", x0=px(sx), x1=px(sx + 15),
                               y0=py(ry + 8), y1=py(ry - 8), fillcolor=swf, line=dict(width=0)))
            shapes.append(dict(type="line", xref="paper", yref="paper", x0=px(sx + 1), x1=px(sx + 14),
                               y0=py(ry), y1=py(ry), line=dict(color=col, width=1.5)))
            shapes.append(dict(type="line", xref="paper", yref="paper", x0=px(sx + 7.5), x1=px(sx + 7.5),
                               y0=py(ry - 4), y1=py(ry + 4), line=dict(color=col, width=1.5)))

fig.update_layout(width=W, height=H, margin=dict(l=0, r=0, t=0, b=0), paper_bgcolor="white",
                  plot_bgcolor="white", showlegend=False, shapes=shapes, annotations=annotations,
                  font=dict(family=FONT), **layout)
fig.write_html("out.html", config={"displayModeBar": False},
               post_script="document.body.style.margin='0';document.body.style.overflow='hidden';")
